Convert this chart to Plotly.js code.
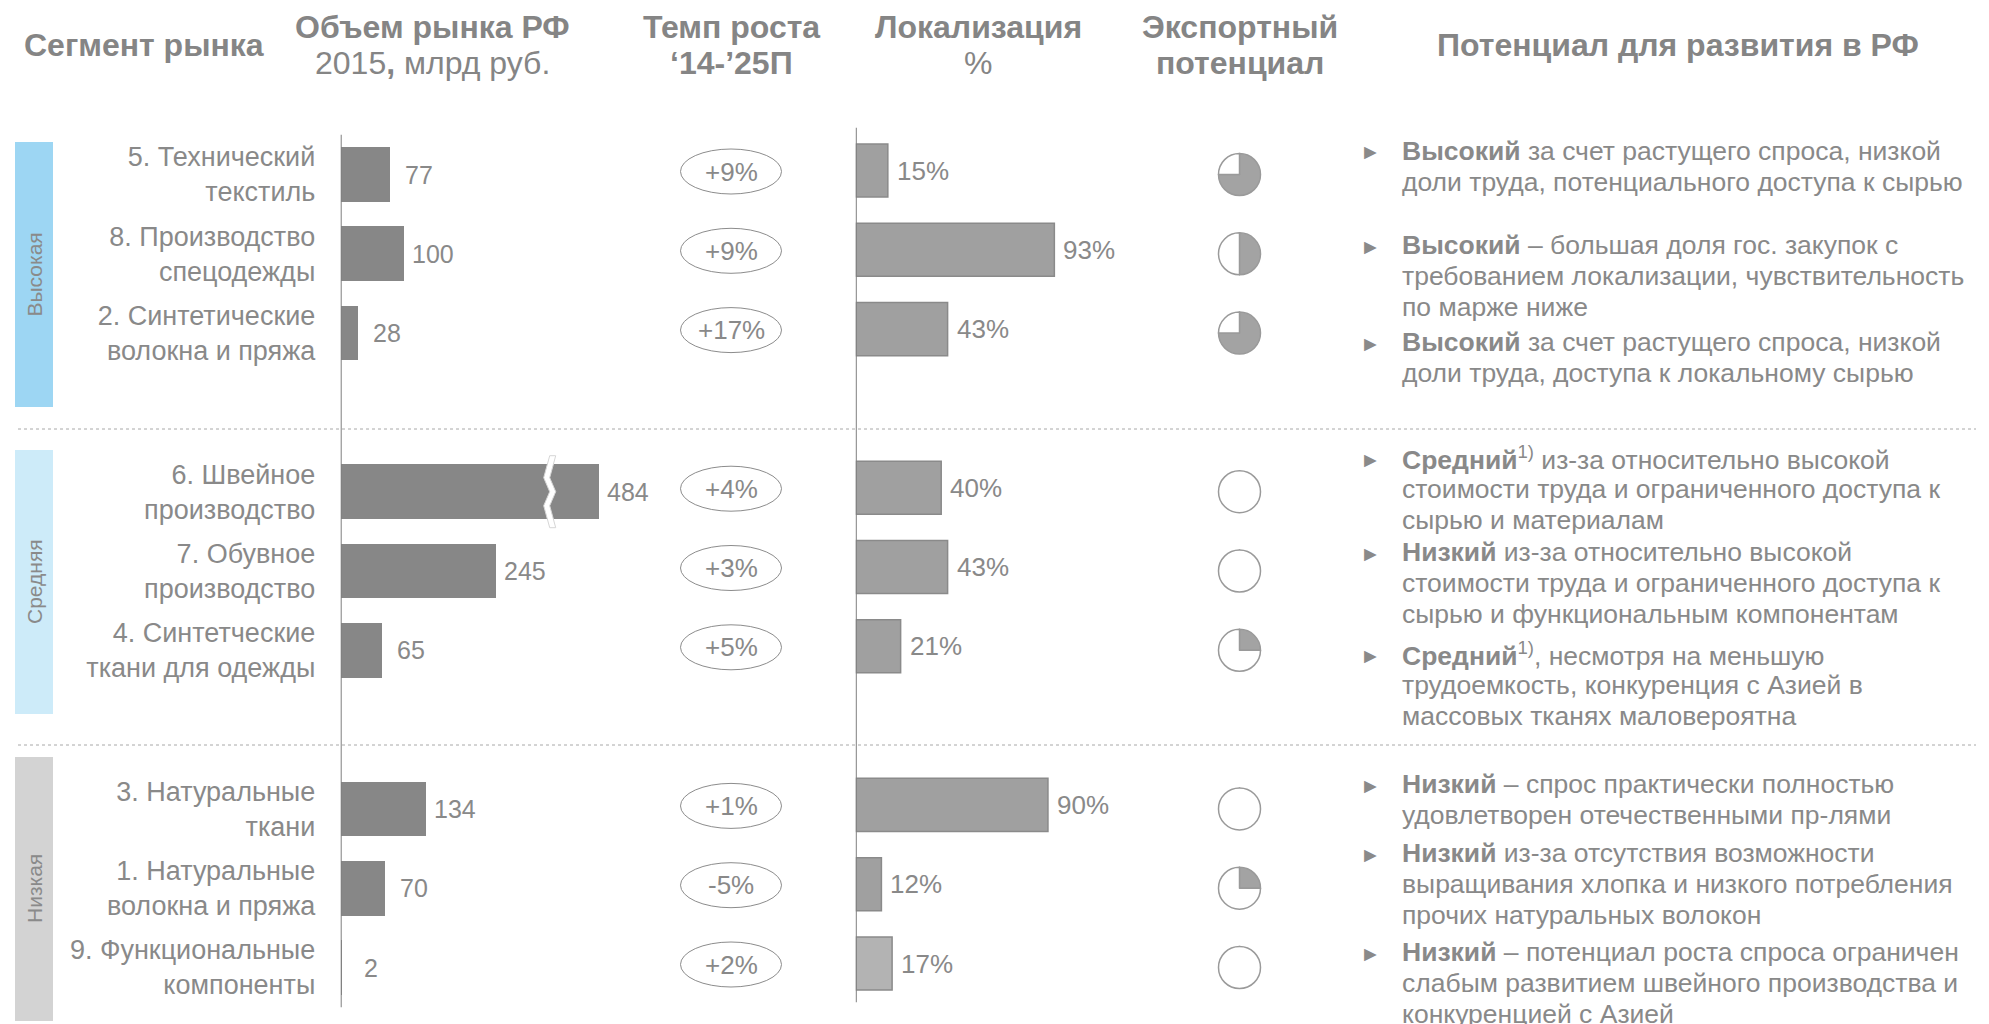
<!DOCTYPE html>
<html><head><meta charset="utf-8">
<script src="https://cdn.plot.ly/plotly-3.0.1.min.js"></script>
<style>html,body{margin:0;padding:0;background:#fff}</style>
</head><body><div id="chart" style="width:1989px;height:1024px"></div>
<script>
// ---------------- DATA ----------------
const groups = ['Высокая', 'Средняя', 'Низкая'];
const segments = [
  '5. Технический<br>текстиль',
  '8. Производство<br>спецодежды',
  '2. Синтетические<br>волокна и пряжа',
  '6. Швейное<br>производство',
  '7. Обувное<br>производство',
  '4. Синтетческие<br>ткани для одежды',
  '3. Натуральные<br>ткани',
  '1. Натуральные<br>волокна и пряжа',
  '9. Функциональные<br>компоненты'
];
const segmentGroup = [0, 0, 0, 1, 1, 1, 2, 2, 2];
const marketVolume = [77, 100, 28, 484, 245, 65, 134, 70, 2];      // 2015, млрд руб.
const growthRate = [9, 9, 17, 4, 3, 5, 1, -5, 2];                  // '14-'25П, %
const localization = [15, 93, 43, 40, 43, 21, 90, 12, 17];         // %
const exportPotential = [0.75, 0.5, 0.75, 0, 0, 0.25, 0, 0.25, 0]; // Harvey ball fill
const notes = [
  '<b>Высокий</b> за счет растущего спроса, низкой<br>доли труда, потенциального доступа к сырью',
  '<b>Высокий</b> – большая доля гос. закупок с<br>требованием локализации, чувствительность<br>по марже ниже',
  '<b>Высокий</b> за счет растущего спроса, низкой<br>доли труда, доступа к локальному сырью',
  '<b>Средний</b><sup>1)</sup> из-за относительно высокой<br>стоимости труда и ограниченного доступа к<br>сырью и материалам',
  '<b>Низкий</b> из-за относительно высокой<br>стоимости труда и ограниченного доступа к<br>сырью и функциональным компонентам',
  '<b>Средний</b><sup>1)</sup>, несмотря на меньшую<br>трудоемкость, конкуренция с Азией в<br>массовых тканях маловероятна',
  '<b>Низкий</b> – спрос практически полностью<br>удовлетворен отечественными пр-лями',
  '<b>Низкий</b> из-за отсутствия возможности<br>выращивания хлопка и низкого потребления<br>прочих натуральных волокон',
  '<b>Низкий</b> – потенциал роста спроса ограничен<br>слабым развитием швейного производства и<br>конкуренцией с Азией'
];
const headers = [
  '<b>Сегмент рынка</b>',
  '<b>Объем рынка РФ</b><br>2015<b>,</b> млрд руб.',
  '<b>Темп роста</b><br><b>‘14-’25П</b>',
  '<b>Локализация</b><br>%',
  '<b>Экспортный</b><br><b>потенциал</b>',
  '<b>Потенциал для развития в РФ</b>'
];

// ---------------- LAYOUT / STYLE ----------------
const W = 1989, H = 1024;
const FONT = '"Liberation Sans", Arial, sans-serif';
const GREY = '#898989';
const ROW0 = 174.5, STEP = 79.3;           // px of first row, px per row slot
const Y_RANGE = [10.6, -1];
const yTopPx = ROW0 + Y_RANGE[1] * STEP, yBotPx = ROW0 + Y_RANGE[0] * STEP;
const VOL_X0 = 340.7, VOL_PPU = 0.635, VOL_MAX = 520;
const LOC_X0 = 855.8, LOC_PPU = 2.135, LOC_MAX = 150;
const VOL_BREAK_CAP = 406;                  // axis break for the very long bar
const GROWTH_X = 731, EXPORT_X = 1239.5, BALL_R = 21;
const headerX = [143.5, 432, 731, 978, 1240, 1678];
const HEADER_LINE1 = 27, HEADER_LINE2 = 63, HEADER_SINGLE = 45;
const bands = [[142, 407, '#9dd6f3'], [450, 714, '#cdebf9'], [757, 1021, '#d3d3d3']];
const separatorsPx = [429, 745];
const noteFirstLinePx = [150.7, 245, 342, 458, 552, 654, 784.3, 853, 952];
const NOTE_LINE = 30.8, NOTE_X = 1400, BULLET_X = 1370.5;

const px2x = p => p / W;
const py2y = p => 1 - p / H;

// row positions: group index * 4 + index within group
const rowPos = [];
{
  const counter = {};
  segmentGroup.forEach(g => { counter[g] = counter[g] || 0; rowPos.push(g * 4 + counter[g]); counter[g]++; });
}

const volDisplay = marketVolume.map(v => Math.min(v, VOL_BREAK_CAP));
const locFill = localization.map((v, i) => i === localization.length - 1 ? '#b3b3b3' : '#a0a0a0');

const traces = [];
traces.push({
  type: 'bar', orientation: 'h', x: volDisplay, y: rowPos, xaxis: 'x', yaxis: 'y',
  width: 0.69, marker: {color: '#878787', line: {width: 0}}, hoverinfo: 'skip', showlegend: false
});
traces.push({
  type: 'bar', orientation: 'h', x: localization, y: rowPos, xaxis: 'x2', yaxis: 'y2',
  width: 0.67, marker: {color: locFill, line: {color: '#8a8a8a', width: 1.5}}, hoverinfo: 'skip', showlegend: false
});
exportPotential.forEach((v, i) => {
  const cy = ROW0 + rowPos[i] * STEP;
  traces.push({
    type: 'pie', values: [v, 1 - v], sort: false, direction: 'clockwise', rotation: 0,
    marker: {colors: ['#a3a3a3', '#ffffff'], line: {color: '#9a9a9a', width: 1.5}},
    textinfo: 'none', hoverinfo: 'skip', showlegend: false,
    domain: {x: [px2x(EXPORT_X - BALL_R), px2x(EXPORT_X + BALL_R)], y: [py2y(cy + BALL_R), py2y(cy - BALL_R)]}
  });
});

const shapes = [];
bands.forEach(b => shapes.push({type: 'rect', xref: 'paper', yref: 'paper', x0: px2x(15), x1: px2x(53),
  y0: py2y(b[1]), y1: py2y(b[0]), fillcolor: b[2], line: {width: 0}, layer: 'below'}));
separatorsPx.forEach(p => shapes.push({type: 'line', xref: 'paper', yref: 'paper', x0: px2x(18), x1: px2x(1976),
  y0: py2y(p), y1: py2y(p), line: {color: '#a8a8a8', width: 1, dash: 'dot'}}));
shapes.push({type: 'line', xref: 'x', yref: 'y', x0: 0, x1: 0, y0: -0.5, y1: 10.5, line: {color: '#7f7f7f', width: 2}});
shapes.push({type: 'line', xref: 'x2', yref: 'y2', x0: 0, x1: 0, y0: -0.54, y1: 10.49, line: {color: '#7f7f7f', width: 2}});
rowPos.forEach((p, i) => {
  shapes.push({type: 'circle', xref: 'paper', xsizemode: 'pixel', xanchor: px2x(GROWTH_X), x0: -50.5, x1: 50.5,
    yref: 'y', ysizemode: 'pixel', yanchor: p, y0: -19.5, y1: 25.5,
    line: {color: '#8c8c8c', width: 1}, fillcolor: 'rgba(0,0,0,0)'});
});
// axis-break zigzag on bars exceeding the cap
marketVolume.forEach((v, i) => {
  if (v > VOL_BREAK_CAP) {
    shapes.push({type: 'path', xref: 'x', xsizemode: 'pixel', xanchor: VOL_BREAK_CAP - 80,
      yref: 'y', ysizemode: 'pixel', yanchor: rowPos[i],
      path: 'M 2,36 L -4,14 L 2,0 L -4,-14 L 2,-36 L 8,-36 L 2,-14 L 8,0 L 2,14 L 8,36 Z',
      fillcolor: '#ffffff', line: {color: '#d6d6d6', width: 1}});
  }
});

const ann = [];
const txt = (o) => Object.assign({showarrow: false, font: {family: FONT, size: 25, color: GREY}}, o);
headers.forEach((h, i) => {
  const lines = h.split('<br>');
  lines.forEach((ln, k) => {
    const yPx = lines.length === 1 ? HEADER_SINGLE : (k === 0 ? HEADER_LINE1 : HEADER_LINE2);
    ann.push(txt({xref: 'paper', yref: 'paper', x: px2x(headerX[i]), y: py2y(yPx),
      xanchor: 'center', yanchor: 'middle', text: ln, font: {family: FONT, size: 32, color: '#858585'}}));
  });
});
groups.forEach((g, i) => ann.push(txt({xref: 'paper', yref: 'paper', x: px2x(34), y: py2y((bands[i][0] + bands[i][1]) / 2),
  text: g, textangle: -90, xanchor: 'center', yanchor: 'middle', font: {family: FONT, size: 21, color: '#8a8a8a'}})));
marketVolume.forEach((v, i) => ann.push(txt({xref: 'x', yref: 'y', x: volDisplay[i], y: rowPos[i],
  text: String(v), xanchor: 'center', yanchor: 'middle', xshift: 29})));
localization.forEach((v, i) => ann.push(txt({xref: 'x2', yref: 'y2', x: v, y: rowPos[i],
  text: v + '%', xanchor: 'left', yanchor: 'middle', xshift: 7, font: {family: FONT, size: 26, color: GREY}})));
growthRate.forEach((v, i) => ann.push(txt({xref: 'paper', yref: 'y', x: px2x(GROWTH_X), y: rowPos[i], yshift: 3,
  text: (v > 0 ? '+' : '') + v + '%', xanchor: 'center', yanchor: 'middle', font: {family: FONT, size: 26, color: GREY}})));
notes.forEach((n, i) => {
  n.split('<br>').forEach((ln, k) => {
    ann.push(txt({xref: 'paper', yref: 'paper', x: px2x(NOTE_X), y: py2y(noteFirstLinePx[i] + k * NOTE_LINE),
      text: ln, xanchor: 'left', yanchor: 'middle', align: 'left', font: {family: FONT, size: 26.5, color: GREY}}));
  });
  ann.push(txt({xref: 'paper', yref: 'paper', x: px2x(BULLET_X), y: py2y(noteFirstLinePx[i] + 1),
    text: '►', xanchor: 'center', yanchor: 'middle', font: {family: FONT, size: 21, color: '#8a8a8a'}}));
});

const layout = {
  width: W, height: H, margin: {l: 0, r: 0, t: 0, b: 0}, paper_bgcolor: '#fff', plot_bgcolor: 'rgba(0,0,0,0)',
  font: {family: FONT, color: GREY}, showlegend: false, bargap: 0,
  xaxis: {domain: [px2x(VOL_X0), px2x(VOL_X0 + VOL_MAX * VOL_PPU)], range: [0, VOL_MAX], visible: false, anchor: 'y', fixedrange: true},
  yaxis: {domain: [py2y(yBotPx), py2y(yTopPx)], range: Y_RANGE, anchor: 'x', showgrid: false, zeroline: false, showline: false,
    tickmode: 'array', tickvals: rowPos, ticktext: segments, ticks: 'outside', ticklen: 19, tickcolor: 'rgba(0,0,0,0)',
    tickfont: {family: FONT, size: 27, color: GREY}, fixedrange: true},
  xaxis2: {domain: [px2x(LOC_X0), px2x(LOC_X0 + LOC_MAX * LOC_PPU)], range: [0, LOC_MAX], visible: false, anchor: 'y2', fixedrange: true},
  yaxis2: {domain: [py2y(yBotPx) + 4 / H, py2y(yTopPx) + 4 / H], range: Y_RANGE, anchor: 'x2', visible: false, fixedrange: true},
  shapes: shapes, annotations: ann
};
Plotly.newPlot('chart', traces, layout, {staticPlot: true, displayModeBar: false});
</script></body></html>
